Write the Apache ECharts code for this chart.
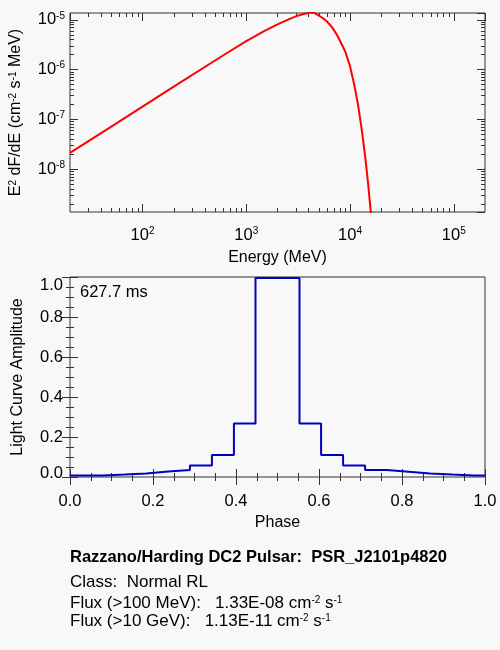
<!DOCTYPE html>
<html>
<head>
<meta charset="utf-8">
<script src="https://cdn.jsdelivr.net/npm/echarts@6/dist/echarts.min.js"></script>
<style>
  html, body { margin: 0; padding: 0; background: #f8f8f8; }
  #main { width: 500px; height: 650px; }
</style>
</head>
<body>
<div id="main"></div>
<script>
// spectrum (MeV, cm^-2 s^-1 MeV)
var energy = [20, 50, 100, 200, 500, 700, 1000, 1500, 2000, 2500, 3000, 3500, 4000, 4500, 5000, 5500,
    6000, 6500, 7000, 7500, 8000, 9000, 10000, 11000, 12000, 13000, 14000, 15000, 16000];
var e2dnde = [2.11e-8, 7.13e-8, 1.80e-7, 4.52e-7, 1.52e-6, 2.36e-6, 3.72e-6, 6.0e-6, 8.1e-6, 1.0e-5, 1.17e-5, 1.29e-5, 1.38e-5, 1.38e-5, 1.22e-5, 1.07e-5,
    9.2e-6, 7.7e-6, 6.2e-6, 4.95e-6, 3.8e-6, 2.3e-6, 1.17e-6, 4.9e-7, 1.86e-7, 6.0e-8, 1.8e-8, 4.7e-9, 1.1e-9];

// light curve bins
var binStart = [0, 0.026, 0.079, 0.132, 0.184, 0.237, 0.289, 0.342, 0.395, 0.447,
    0.553, 0.605, 0.658, 0.711, 0.763, 0.816, 0.868, 0.921, 0.974, 1.0];
var amplitude = [0.007, 0.008, 0.012, 0.017, 0.027, 0.035, 0.058, 0.11, 0.267, 0.995,
    0.267, 0.11, 0.058, 0.035, 0.026, 0.017, 0.012, 0.008, 0.007, 0.007];

// minor tick positions of the log axes
var xMinorTicks = [30, 40, 50, 60, 70, 80, 90, 200, 300, 400, 500, 600, 700, 800, 900,
    2000, 3000, 4000, 5000, 6000, 7000, 8000, 9000, 20000, 30000, 40000, 50000, 60000, 70000, 80000, 90000];
var yMinorTicks = [2e-9, 3e-9, 4e-9, 5e-9, 6e-9, 7e-9, 8e-9, 9e-9,
    2e-8, 3e-8, 4e-8, 5e-8, 6e-8, 7e-8, 8e-8, 9e-8,
    2e-7, 3e-7, 4e-7, 5e-7, 6e-7, 7e-7, 8e-7, 9e-7,
    2e-6, 3e-6, 4e-6, 5e-6, 6e-6, 7e-6, 8e-6, 9e-6];

var periodText = '627.7 ms';
var infoTitle = 'Razzano/Harding DC2 Pulsar:  PSR_J2101p4820';
var infoClass = 'Class:  Normal RL';
var flux100 = '1.33E-08';
var flux10g = '1.13E-11';

var FONT = '"Liberation Sans", Arial, Helvetica, sans-serif';
var axisColor = '#333';
var xMin = 20, xMax = 2e5, yMin = 1.37e-9, yMax = 1.37e-5;

var supRich = {
    b: { fontSize: 16.5, fontFamily: FONT, color: '#000', lineHeight: 18 },
    sup: { fontSize: 10, fontFamily: FONT, color: '#000', verticalAlign: 'top', lineHeight: 10 }
};

function powLabel(v) {
    var p = Math.round(Math.log10(v));
    return '{b|10}{sup|' + p + '}';
}

// log axis carrying the data, the decade ticks and (optionally) the labels
function logAxis(pos, gridIndex, min, max, labels, margin) {
    return {
        type: 'log',
        gridIndex: gridIndex,
        position: pos,
        min: min,
        max: max,
        axisLine: { show: false },
        splitLine: { show: false },
        axisTick: { show: true, inside: true, length: 8, lineStyle: { color: axisColor } },
        axisLabel: {
            show: labels, formatter: powLabel, rich: supRich, margin: margin,
            showMinLabel: false, showMaxLabel: false
        }
    };
}

// helper axis in decades, only for the short log ticks
function minorLogAxis(pos, gridIndex, min, max, ticks) {
    return {
        type: 'value',
        gridIndex: gridIndex,
        position: pos,
        min: Math.log10(min),
        max: Math.log10(max),
        axisLine: { show: false },
        splitLine: { show: false },
        axisLabel: { show: false },
        axisTick: {
            show: true, inside: true, length: 4,
            customValues: ticks.map(function (t) { return Math.log10(t); }),
            lineStyle: { color: axisColor }
        }
    };
}

function linAxis(pos, gridIndex, labels, margin) {
    return {
        type: 'value',
        gridIndex: gridIndex,
        position: pos,
        min: 0,
        max: 1,
        interval: 0.2,
        axisLine: { show: false },
        splitLine: { show: false },
        axisTick: { show: true, inside: true, length: 8, lineStyle: { color: axisColor } },
        minorTick: { show: true, splitNumber: 4, length: 4, lineStyle: { color: axisColor } },
        axisLabel: {
            show: labels,
            margin: margin,
            fontSize: 16.5,
            fontFamily: FONT,
            color: '#000',
            formatter: function (v) { return v.toFixed(1); }
        }
    };
}

var chart = echarts.init(document.getElementById('main'));

var xTop = [
    logAxis('bottom', 0, xMin, xMax, true, 14),
    minorLogAxis('bottom', 0, xMin, xMax, xMinorTicks),
    logAxis('top', 0, xMin, xMax, false, 0),
    minorLogAxis('top', 0, xMin, xMax, xMinorTicks)
];
xTop[0].name = 'Energy (MeV)';
xTop[0].nameLocation = 'middle';
xTop[0].nameGap = 38;
xTop[0].nameTextStyle = { fontSize: 16, fontFamily: FONT, color: '#000' };

var yTop = [
    logAxis('left', 0, yMin, yMax, true, 5),
    minorLogAxis('left', 0, yMin, yMax, yMinorTicks),
    logAxis('right', 0, yMin, yMax, false, 0),
    minorLogAxis('right', 0, yMin, yMax, yMinorTicks)
];
yTop[0].name = 'E{sup|2} dF/dE (cm{sup|-2} s{sup|-1} MeV)';
yTop[0].nameLocation = 'middle';
yTop[0].nameGap = 46;
yTop[0].nameRotate = 90;
yTop[0].nameTextStyle = { fontSize: 16, fontFamily: FONT, color: '#000', rich: supRich };

var xBot = [linAxis('bottom', 1, true, 16), linAxis('top', 1, false, 0)];
xBot[0].name = 'Phase';
xBot[0].nameLocation = 'middle';
xBot[0].nameGap = 38;
xBot[0].nameTextStyle = { fontSize: 16, fontFamily: FONT, color: '#000' };

var yBot = [linAxis('left', 1, true, 7), linAxis('right', 1, false, 0)];
// end labels sit inside the frame, as in the original
yBot[0].axisLabel.formatter = function (v) {
    if (v === 0) return '{lo|0.0}';
    if (v === 1) return '{hi|1.0}';
    return '{n|' + v.toFixed(1) + '}';
};
yBot[0].axisLabel.rich = {
    n: { fontSize: 16.5, fontFamily: FONT, color: '#000' },
    lo: { fontSize: 16.5, fontFamily: FONT, color: '#000', padding: [0, 0, 8, 0] },
    hi: { fontSize: 16.5, fontFamily: FONT, color: '#000', padding: [16, 0, 0, 0] }
};
yBot[0].name = 'Light Curve Amplitude';
yBot[0].nameLocation = 'middle';
yBot[0].nameGap = 44;
yBot[0].nameTextStyle = { fontSize: 16, fontFamily: FONT, color: '#000' };

var spectrum = energy.map(function (e, i) { return [e, e2dnde[i]]; });
var lightCurve = binStart.map(function (p, i) { return [p, amplitude[i]]; });

var supText = {
    t: { fontSize: 17, fontFamily: FONT, fill: '#000' },
    s: { fontSize: 10, fontFamily: FONT, fill: '#000', verticalAlign: 'top', lineHeight: 10 }
};

var option = {
    backgroundColor: '#f8f8f8',
    animation: false,
    textStyle: { fontFamily: FONT },
    grid: [
        { left: 70, top: 13, width: 415, height: 199, show: true, borderColor: axisColor, borderWidth: 1 },
        { left: 70, top: 277, width: 415, height: 200, show: true, borderColor: axisColor, borderWidth: 1 }
    ],
    xAxis: xTop.concat(xBot),
    yAxis: yTop.concat(yBot),
    series: [
        {
            type: 'line',
            xAxisIndex: 0,
            yAxisIndex: 0,
            data: spectrum,
            showSymbol: false,
            lineStyle: { color: '#ff0000', width: 2 }
        },
        {
            type: 'line',
            xAxisIndex: 4,
            yAxisIndex: 4,
            data: lightCurve,
            step: 'end',
            showSymbol: false,
            lineStyle: { color: '#0000c0', width: 2 }
        }
    ],
    graphic: [
        { type: 'text', left: 80, top: 284, style: { text: periodText, font: '16.5px ' + FONT, fill: '#000' } },
        { type: 'text', left: 70, top: 549, style: { text: infoTitle, font: 'bold 16.5px ' + FONT, fill: '#000' } },
        { type: 'text', left: 70, top: 574, style: { text: infoClass, font: '17px ' + FONT, fill: '#000' } },
        {
            type: 'text', left: 70, top: 595,
            style: { text: '{t|Flux (>100 MeV):   ' + flux100 + ' cm}{s|-2}{t| s}{s|-1}', rich: supText }
        },
        {
            type: 'text', left: 70, top: 613,
            style: { text: '{t|Flux (>10 GeV):   ' + flux10g + ' cm}{s|-2}{t| s}{s|-1}', rich: supText }
        }
    ]
};

chart.setOption(option);
</script>
</body>
</html>
